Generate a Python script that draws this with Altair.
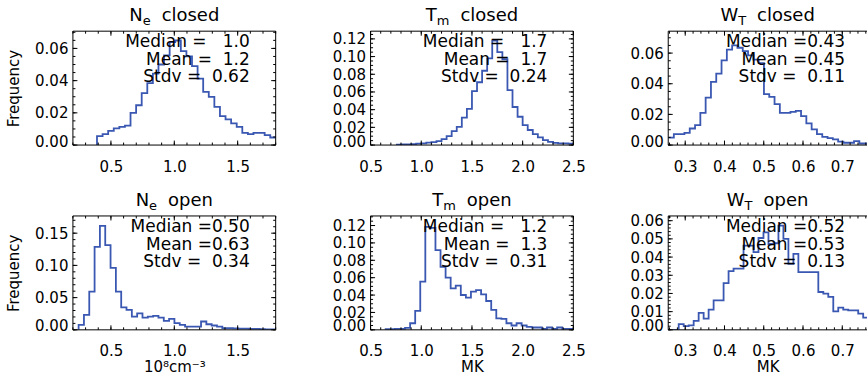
import altair as alt
import pandas as pd

FONT = "DejaVu Sans"
BLUE = "#3a57b2"
H = 114

# ---------------- histogram data (frequency per bin) ----------------
ne_closed_start, ne_closed_bin = 0.39, 0.0441
ne_closed_freq = [0.0056, 0.0068, 0.0088, 0.0103, 0.0113, 0.0120, 0.0200, 0.0247,
                  0.0323, 0.0385, 0.0443, 0.0500, 0.0557, 0.0639, 0.0649, 0.0583,
                  0.0550, 0.0490, 0.0412, 0.0330, 0.0299, 0.0237, 0.0179, 0.0160,
                  0.0134, 0.0113, 0.0076, 0.0068, 0.0076, 0.0076, 0.0062, 0.0047]

tm_closed_start, tm_closed_bin = 0.75, 0.05
tm_closed_freq = [0.0005, 0.0007, 0.0008, 0.0010, 0.0015, 0.0020, 0.0028, 0.0032,
                  0.0045, 0.0068, 0.0100, 0.0158, 0.0206, 0.0310, 0.0410, 0.0610,
                  0.0710, 0.0840, 0.0980, 0.1180, 0.1050, 0.0970, 0.0620, 0.0430,
                  0.0320, 0.0225, 0.0170, 0.0124, 0.0086, 0.0056, 0.0035, 0.0025,
                  0.0020, 0.0020, 0.0015]

wt_closed_start, wt_closed_bin = 0.2575, 0.0135
wt_closed_freq = [0.0049, 0.0071, 0.0071, 0.0080, 0.0108, 0.0130, 0.0210, 0.0310,
                  0.0412, 0.0466, 0.0553, 0.0622, 0.0650, 0.0635, 0.0613, 0.0585,
                  0.0557, 0.0535, 0.0332, 0.0314, 0.0267, 0.0210, 0.0210, 0.0217,
                  0.0223, 0.0189, 0.0141, 0.0102, 0.0071, 0.0054, 0.0045, 0.0037,
                  0.0022, 0.0015, 0.0015, 0.0026, 0.0010, 0.0010]

ne_open_start, ne_open_bin = 0.245, 0.042
ne_open_freq = [0.0077, 0.0232, 0.0592, 0.1288, 0.1612, 0.1314, 0.0963, 0.0592,
                0.0350, 0.0309, 0.0206, 0.0257, 0.0190, 0.0206, 0.0216, 0.0190,
                0.0139, 0.0170, 0.0103, 0.0077, 0.0051, 0.0051, 0.0051, 0.0129,
                0.0087, 0.0067, 0.0051, 0.0026, 0.0026, 0.0024, 0.0020, 0.0020,
                0.0015, 0.0015, 0.0010, 0.0005, 0.0005]

tm_open_start, tm_open_bin = 0.64, 0.05
tm_open_freq = [0.0008, 0.0008, 0.0010, 0.0012, 0.0023, 0.0076, 0.0218, 0.0554,
                0.1184, 0.1173, 0.0917, 0.0726, 0.0600, 0.0477, 0.0508, 0.0401,
                0.0370, 0.0439, 0.0458, 0.0408, 0.0332, 0.0229, 0.0133, 0.0126,
                0.0076, 0.0050, 0.0076, 0.0050, 0.0034, 0.0027, 0.0027, 0.0011,
                0.0027, 0.0011, 0.0027, 0.0011, 0.0011, 0.0011]

wt_open_start, wt_open_bin = 0.258, 0.0127
wt_open_freq = [0.0000, 0.0000, 0.0031, 0.0020, 0.0025, 0.0049, 0.0093, 0.0062,
                0.0111, 0.0162, 0.0162, 0.0257, 0.0323, 0.0336, 0.0336, 0.0463,
                0.0463, 0.0427, 0.0505, 0.0536, 0.0472, 0.0476, 0.0573, 0.0500,
                0.0363, 0.0418, 0.0317, 0.0317, 0.0317, 0.0317, 0.0208, 0.0199,
                0.0181, 0.0102, 0.0122, 0.0111, 0.0107, 0.0107, 0.0089, 0.0067]

NB = "\u00a0"
stats_ne_closed = [f"Median{NB}={NB}{NB}{NB}1.0", f"Mean{NB}={NB}{NB}1.2", f"Stdv{NB}={NB}{NB}0.62"]
stats_tm_closed = [f"Median{NB}={NB}{NB}{NB}1.7", f"Mean{NB}={NB}{NB}1.7", f"Stdv{NB}={NB}{NB}0.24"]
stats_wt_closed = [f"Median{NB}=0.43", f"Mean{NB}=0.45", f"Stdv{NB}={NB}{NB}0.11"]
stats_ne_open = [f"Median{NB}=0.50", f"Mean{NB}=0.63", f"Stdv{NB}={NB}{NB}0.34"]
stats_tm_open = [f"Median{NB}={NB}{NB}{NB}1.2", f"Mean{NB}={NB}{NB}1.3", f"Stdv{NB}={NB}{NB}0.31"]
stats_wt_open = [f"Median{NB}=0.52", f"Mean{NB}=0.53", f"Stdv{NB}={NB}{NB}0.13"]

# ---------------- helpers ----------------
ADV = {"N": 0.748, "T": 0.611, "W": 0.989, "e": 0.615, "m": 0.974,
       "c": 0.550, "l": 0.278, "o": 0.612, "s": 0.521, "d": 0.635, "p": 0.635, "n": 0.634}


def adv(text, size):
    return sum(ADV.get(ch, 0.6) for ch in text) * size


def steps(lo, hi, step):
    out = []
    i = 0
    while True:
        v = round(lo + i * step, 6)
        if v > hi + 1e-9:
            break
        out.append(v)
        i += 1
    return out


ONE = pd.DataFrame({"k": [0]})


def frame_rule(**enc):
    return alt.Chart(ONE).mark_rule(color="black", strokeWidth=1).encode(**enc)


def panel(cfg):
    w = cfg["w"]
    cut = cfg.get("cut", False)
    xs = alt.Scale(domain=cfg["xdom"], nice=False, zero=False)
    ys = alt.Scale(domain=cfg["ydom"], nice=False, zero=False)
    xaxis = alt.Axis(values=cfg["xlab"], format=".1f", ticks=False, domain=False, grid=False,
                     labelFlush=False, labelOverlap=False, labelPadding=14, titlePadding=1)
    yaxis = alt.Axis(values=cfg["ylab"], format=".2f", ticks=False, domain=False, grid=False,
                     labelFlush=True, labelFlushOffset=4, labelOverlap=False, labelPadding=5,
                     titlePadding=13)
    xenc = alt.X("x:Q", scale=xs, axis=xaxis, title=cfg["xtitle"])
    yenc = alt.Y("y:Q", scale=ys, axis=yaxis, title=cfg["ytitle"])

    freq = cfg["freq"]
    n = len(freq)
    xsv = [cfg["start"] + i * cfg["bin"] for i in range(n + 1)]
    ysv = freq + [freq[-1]]
    if cfg.get("lead"):
        xsv = [xsv[0]] + xsv
        ysv = [0.0] + ysv
    hist = alt.Chart(pd.DataFrame({"x": xsv, "y": ysv})).mark_line(
        interpolate="step-after", color=BLUE, strokeWidth=1.8, clip=True
    ).encode(x=xenc, y=yenc)

    layers = [hist]

    # box frame (right side is outside the picture for the last column)
    layers.append(frame_rule(x=alt.value(0), x2=alt.value(w), y=alt.value(0)))
    layers.append(frame_rule(x=alt.value(0), x2=alt.value(w), y=alt.value(H)))
    layers.append(frame_rule(x=alt.value(0), y=alt.value(0), y2=alt.value(H)))
    if not cut:
        layers.append(frame_rule(x=alt.value(w), y=alt.value(0), y2=alt.value(H)))

    # inward ticks on all sides
    lo_x, hi_x = cfg["xdom"]
    lo_y, hi_y = cfg["ydom"]
    for vals, L in ((cfg["xlab"], 4.5), (steps(cfg["xminor"][0], hi_x, cfg["xminor"][1]), 2.5)):
        vals = [v for v in vals if lo_x <= v <= hi_x]
        d = pd.DataFrame({"x": vals})
        layers.append(alt.Chart(d).mark_rule(color="black", strokeWidth=1).encode(
            x=xenc, y=alt.value(H), y2=alt.value(H - L)))
        layers.append(alt.Chart(d).mark_rule(color="black", strokeWidth=1).encode(
            x=xenc, y=alt.value(0), y2=alt.value(L)))
    for vals, L in ((cfg["ylab"], 4.5), (steps(0.0, hi_y, cfg["yminor"]), 2.5)):
        vals = [v for v in vals if lo_y <= v <= hi_y]
        d = pd.DataFrame({"y": vals})
        layers.append(alt.Chart(d).mark_rule(color="black", strokeWidth=1).encode(
            y=yenc, x=alt.value(0), x2=alt.value(L)))
        if not cut:
            layers.append(alt.Chart(d).mark_rule(color="black", strokeWidth=1).encode(
                y=yenc, x=alt.value(w), x2=alt.value(w - L)))

    # statistics annotation
    layers.append(alt.Chart(pd.DataFrame({"t": ["\n".join(cfg["stats"])]})).mark_text(
        font=FONT, fontSize=17, color="black", align="right", baseline="alphabetic",
        lineBreak="\n", lineHeight=17.5
    ).encode(text="t:N", x=alt.value(177), y=alt.value(16.3)))

    # title with subscript: main letter, lowered small letter, gap, word
    main, sub, word = cfg["title"]
    gap = 11
    parts = [(main, 18, 0, 0), (sub, 13, 4, gap), (word, 18, 0, 0)]
    total = sum(adv(t, s) + g for t, s, _, g in parts)
    x0 = w / 2 - total / 2
    for t, s, dy, g in parts:
        layers.append(alt.Chart(pd.DataFrame({"t": [t]})).mark_text(
            font=FONT, fontSize=s, color="black", align="left", baseline="alphabetic"
        ).encode(text="t:N", x=alt.value(x0), y=alt.value(-10.3 + dy)))
        x0 += adv(t, s) + g

    return alt.layer(*layers).properties(width=w, height=H)


cfgs = [
    dict(title=("N", "e", "closed"), freq=ne_closed_freq, start=ne_closed_start, bin=ne_closed_bin,
         lead=True, w=203, xdom=[0.2, 1.8], ydom=[0.0, 0.0707], xlab=[0.5, 1.0, 1.5], xminor=(0.2, 0.1),
         ylab=[0.0, 0.02, 0.04, 0.06], yminor=0.005, xtitle=None, ytitle="Frequency", stats=stats_ne_closed),
    dict(title=("T", "m", "closed"), freq=tm_closed_freq, start=tm_closed_start, bin=tm_closed_bin,
         w=203, xdom=[0.5, 2.5], ydom=[0.0, 0.1287], xlab=[0.5, 1.0, 1.5, 2.0, 2.5], xminor=(0.5, 0.1),
         ylab=[0.0, 0.02, 0.04, 0.06, 0.08, 0.10, 0.12], yminor=0.005, xtitle=None, ytitle=None,
         stats=stats_tm_closed),
    dict(title=("W", "T", "closed"), freq=wt_closed_freq, start=wt_closed_start, bin=wt_closed_bin,
         w=199, cut=True, xdom=[0.2567, 0.763], ydom=[0.0, 0.0743], xlab=[0.3, 0.4, 0.5, 0.6, 0.7],
         xminor=(0.26, 0.02), ylab=[0.0, 0.02, 0.04, 0.06], yminor=0.005, xtitle=None, ytitle=None,
         stats=stats_wt_closed),
    dict(title=("N", "e", "open"), freq=ne_open_freq, start=ne_open_start, bin=ne_open_bin,
         lead=True, w=203, xdom=[0.2, 1.8], ydom=[0.0, 0.1767], xlab=[0.5, 1.0, 1.5], xminor=(0.2, 0.1),
         ylab=[0.0, 0.05, 0.10, 0.15], yminor=0.01, xtitle="10\u2078cm\u207b\u00b3", ytitle="Frequency",
         stats=stats_ne_open),
    dict(title=("T", "m", "open"), freq=tm_open_freq, start=tm_open_start, bin=tm_open_bin,
         w=203, xdom=[0.5, 2.5], ydom=[0.0, 0.131], xlab=[0.5, 1.0, 1.5, 2.0, 2.5], xminor=(0.5, 0.1),
         ylab=[0.0, 0.02, 0.04, 0.06, 0.08, 0.10, 0.12], yminor=0.005, xtitle="MK", ytitle=None,
         stats=stats_tm_open),
    dict(title=("W", "T", "open"), freq=wt_open_freq, start=wt_open_start, bin=wt_open_bin,
         w=199, cut=True, xdom=[0.2567, 0.763], ydom=[0.0, 0.0626], xlab=[0.3, 0.4, 0.5, 0.6, 0.7],
         xminor=(0.26, 0.02), ylab=[0.0, 0.01, 0.02, 0.03, 0.04, 0.05, 0.06], yminor=0.002, xtitle="MK",
         ytitle=None, stats=stats_wt_open),
]

panels = [panel(c) for c in cfgs]

chart = alt.concat(*panels, columns=3, spacing={"row": 71, "column": 95}, bounds="flush").properties(
    padding={"left": 6, "top": 6, "right": 0, "bottom": 0}, background="white"
).configure_view(stroke="transparent").configure_axis(
    labelFont=FONT, labelFontSize=15, labelColor="black",
    titleFont=FONT, titleFontSize=15, titleFontWeight="normal", titleColor="black"
)

chart.save("out.html", embed_options={"renderer": "svg", "actions": False})
